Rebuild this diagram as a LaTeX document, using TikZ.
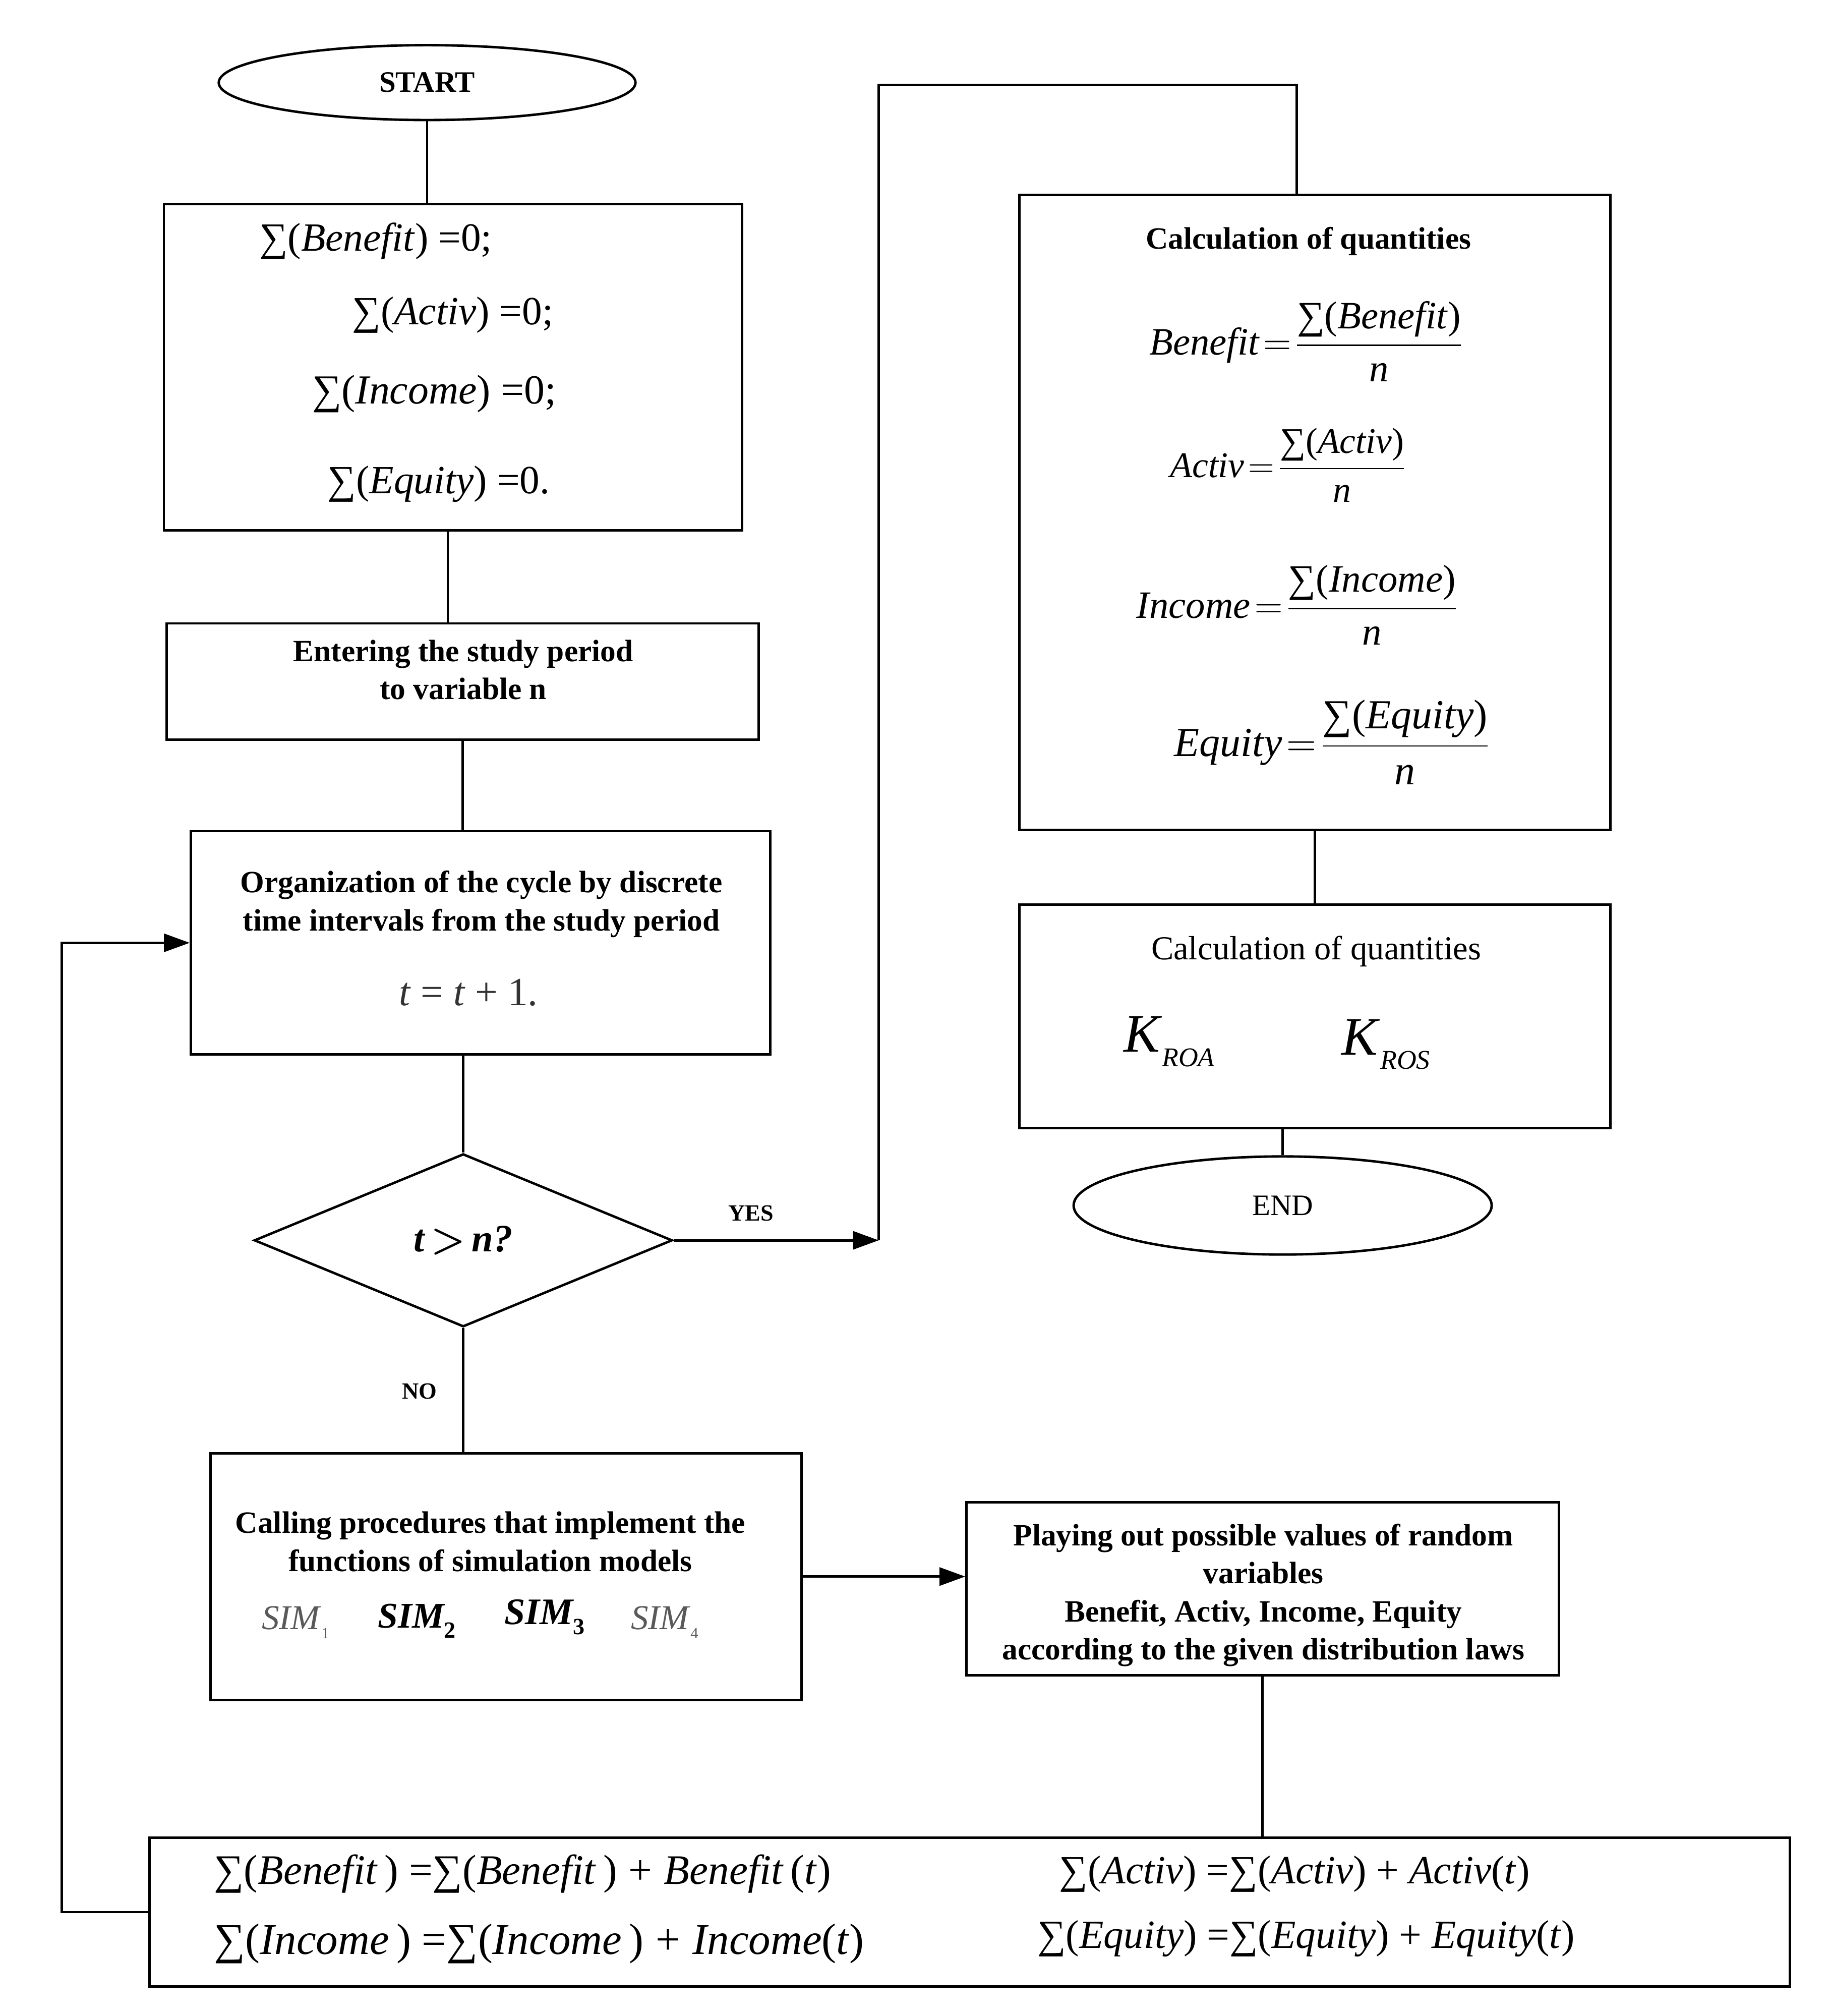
\RequirePackage{fix-cm}
\documentclass[tikz,border=0pt]{standalone}
\usepackage{amsmath}
\usepackage{fontspec}
\setmainfont{Liberation Serif}
\usetikzlibrary{shapes.geometric, arrows.meta}
\newcommand{\sumsign}{\char"2211}

\begin{document}
\begin{tikzpicture}[x = 1pt, y = -1pt, line width = 1.9pt,
		term/.style = {draw, ellipse, inner sep = 0pt},
		box/.style = {draw, rectangle, inner sep = 0pt},
		cond/.style = {draw, diamond, aspect = 2.4, inner sep = 0pt},
		txt/.style = {align = center, inner sep = 0pt, font = \fontsize{24}{29.5}\selectfont\bfseries},
		eqn/.style = {inner sep = 0pt},
		lbl/.style = {inner sep = 0pt, font = \fontsize{18}{18}\selectfont\bfseries},
		arr/.style = {-{Triangle[length = 20pt, width = 14pt]}}]
		\path[fill = white, use as bounding box] (0, 0) rectangle (1418, 1562);
		%%%%%%%%%%%%%
		\node[term, minimum width = 323pt, minimum height = 58pt, font = \fontsize{23}{23}\selectfont\bfseries] (start) at (331, 64) {START};
		\node[box, minimum width = 448pt, minimum height = 253pt] (init) at (351, 284.5) {};
		\node[box, minimum width = 459pt, minimum height = 90pt] (enter) at (358.5, 528) {};
		\node[box, minimum width = 449pt, minimum height = 173pt] (org) at (372.5, 730.5) {};
		\node[cond, minimum width = 324pt, minimum height = 134pt, font = \fontsize{30}{30}\selectfont\bfseries\itshape] (dec) at (359, 961) {t\,$\boldsymbol{>}$\,n?};
		\node[box, minimum width = 458pt, minimum height = 191pt] (call) at (392, 1221.5) {};
		\node[box, minimum width = 459pt, minimum height = 134pt] (play) at (978.5, 1231) {};
		\node[box, minimum width = 1271pt, minimum height = 115pt] (sums) at (751.5, 1481.5) {};
		\node[box, minimum width = 458pt, minimum height = 492pt] (calc) at (1019, 397) {};
		\node[box, minimum width = 458pt, minimum height = 173pt] (kbox) at (1019, 787.5) {};
		\node[term, minimum width = 324pt, minimum height = 76pt, font = \fontsize{23}{23}\selectfont] (fin) at (994, 934) {END};
		\coordinate (yes) at (681, 961);
		\coordinate (top) at (1005, 66);
		\coordinate (loop) at (48, 730.5);
		%%%%%%%%%%%%%
		\node[eqn, anchor = west, font = \fontsize{31}{31}\selectfont] (i1) at (200, 187) {\sumsign(\textit{Benefit}) =0;};
		\node[eqn, anchor = west, font = \fontsize{31}{31}\selectfont] (i2) at (272, 244) {\sumsign(\textit{Activ}) =0;};
		\node[eqn, anchor = west, font = \fontsize{32}{32}\selectfont] (i3) at (241, 305) {\sumsign(\textit{Income}) =0;};
		\node[eqn, anchor = west, font = \fontsize{31}{31}\selectfont] (i4) at (253, 375) {\sumsign(\textit{Equity}) =0.};
		\node[txt] (t1) at (359, 519) {Entering the study period\\to variable n};
		\node[txt] (t2) at (373, 700.5) {Organization of the cycle by discrete\\time intervals from the study period};
		\node[eqn, font = \fontsize{31}{31}\selectfont, text = black!80] (t3) at (363, 769) {\textit{t} = \textit{t} + 1.};
		\node[txt] (t4) at (380, 1194.5) {Calling procedures that implement the\\functions of simulation models};
		\node[eqn, font = \fontsize{27}{27}\selectfont, text = black!65] (sim1) at (229, 1257) {\textit{SIM}\raisebox{-7pt}{\fontsize{12}{12}\selectfont 1}};
		\node[eqn, font = \fontsize{28}{28}\selectfont\bfseries\itshape] (sim2) at (323, 1256) {SIM\raisebox{-8pt}{\fontsize{18}{18}\selectfont\upshape 2}};
		\node[eqn, font = \fontsize{29}{29}\selectfont\bfseries\itshape] (sim3) at (422, 1253) {SIM\raisebox{-8pt}{\fontsize{18}{18}\selectfont\upshape 3}};
		\node[eqn, font = \fontsize{27}{27}\selectfont, text = black!65] (sim4) at (515, 1257) {\textit{SIM}\raisebox{-7pt}{\fontsize{12}{12}\selectfont 4}};
		\node[txt] (t5) at (979, 1236) {Playing out possible values of random\\variables\\Benefit, Activ, Income, Equity\\according to the given distribution laws};
		\node[txt] (t6) at (1014, 187) {Calculation of quantities};
		\node[eqn, anchor = base, font = \fontsize{30}{30}\selectfont] (q1) at (1012, 275) {$\textit{Benefit}\mathrel{\!=\!}\dfrac{\text{\sumsign(\textit{Benefit})}}{\text{\textit{n}}}$};
		\node[eqn, anchor = base, font = \fontsize{28}{28}\selectfont] (q2) at (998, 370) {$\textit{Activ}\mathrel{\!=\!}\dfrac{\text{\sumsign(\textit{Activ})}}{\text{\textit{n}}}$};
		\node[eqn, anchor = base, font = \fontsize{30}{30}\selectfont] (q3) at (1005, 479) {$\textit{Income}\mathrel{\!=\!}\dfrac{\text{\sumsign(\textit{Income})}}{\text{\textit{n}}}$};
		\node[eqn, anchor = base, font = \fontsize{32}{32}\selectfont] (q4) at (1032, 586) {$\textit{Equity}\mathrel{\!=\!}\dfrac{\text{\sumsign(\textit{Equity})}}{\text{\textit{n}}}$};
		\node[eqn, font = \fontsize{26}{26}\selectfont] (t7) at (1020, 737) {Calculation of quantities};
		\node[eqn, font = \fontsize{42}{42}\selectfont] (k1) at (906, 807) {\textit{K}\raisebox{-11pt}{\fontsize{21}{21}\selectfont\itshape ROA}};
		\node[eqn, font = \fontsize{42}{42}\selectfont] (k2) at (1074, 809) {\textit{K}\raisebox{-11pt}{\fontsize{21}{21}\selectfont\itshape ROS}};
		\node[eqn, anchor = west, font = \fontsize{32.5}{32.5}\selectfont] (s1) at (165, 1452) {\sumsign(\textit{Benefit}\,) =\sumsign(\textit{Benefit}\,)\;+\;\textit{Benefit}\,(\textit{t})};
		\node[eqn, anchor = west, font = \fontsize{34}{34}\selectfont] (s2) at (165, 1506) {\sumsign(\textit{Income}\,) =\sumsign(\textit{Income}\,)\;+\;\textit{Income}(\textit{t})};
		\node[eqn, anchor = west, font = \fontsize{31}{31}\selectfont] (s3) at (820, 1452) {\sumsign(\textit{Activ}) =\sumsign(\textit{Activ}) + \textit{Activ}(\textit{t})};
		\node[eqn, anchor = west, font = \fontsize{31}{31}\selectfont] (s4) at (803, 1502) {\sumsign(\textit{Equity}) =\sumsign(\textit{Equity}) + \textit{Equity}(\textit{t})};
		\node[lbl] (yl) at (582, 940) {YES};
		\node[lbl] (nl) at (325, 1078) {NO};
		%%%%%%%%%%%%%
		\draw (start) to (start |- init.north);
		\draw ([xshift = -4pt]init.south) to ([xshift = -4pt]init.south |- enter.north);
		\draw (enter.south) to (enter.south |- org.north);
		\draw (dec.north |- org.south) to (dec.north);
		\draw[arr] (dec.east) to (yes);
		\draw (yes) |- (top) to (top |- calc.north);
		\draw (calc.south) to (kbox.north);
		\draw (fin.north |- kbox.south) to (fin.north);
		\draw (dec.south) to (dec.south |- call.north);
		\draw[arr] (call.east) to (call.east -| play.west);
		\draw (play.south) to (play.south |- sums.north);
		\draw[arr] (sums.west) -| (loop) to (org.west);
\end{tikzpicture}
\end{document}
